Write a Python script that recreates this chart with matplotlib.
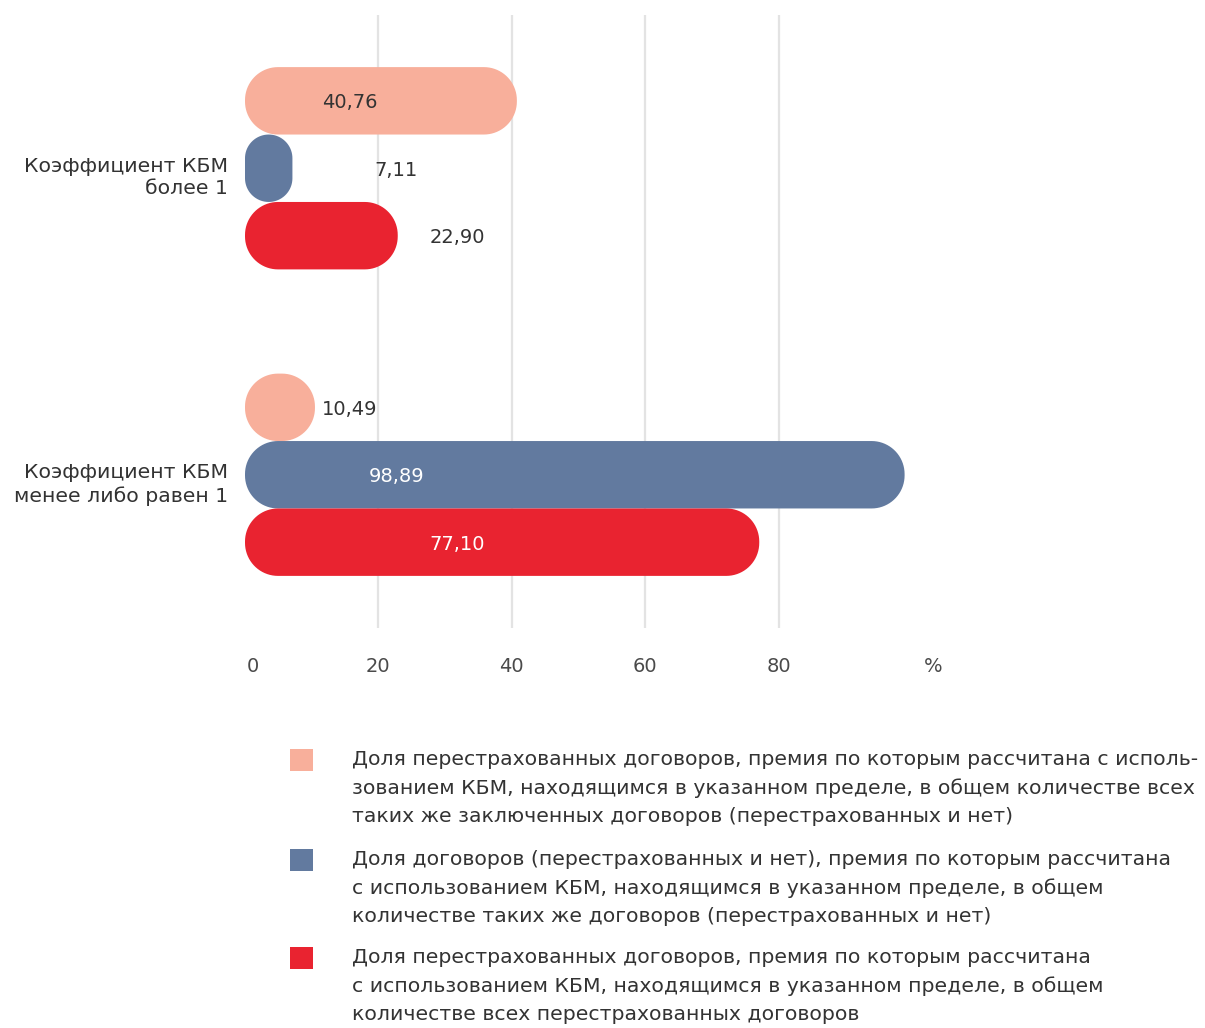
import matplotlib
matplotlib.use("Agg")
import numpy as np
import matplotlib.pyplot as plt
from matplotlib.patches import Polygon, Rectangle
from matplotlib.transforms import ScaledTranslation

# data
categories = ["Коэффициент КБМ\nболее 1", "Коэффициент КБМ\nменее либо равен 1"]
share_reinsured = [40.76, 10.49]      # доля перестрахованных среди всех заключенных
share_all = [7.11, 98.89]             # доля договоров среди таких же
share_of_reinsured = [22.90, 77.10]   # доля среди всех перестрахованных
ticks = [0, 20, 40, 60, 80]
legend_texts = [
    "Доля перестрахованных договоров, премия по которым рассчитана с исполь-\n"
    "зованием КБМ, находящимся в указанном пределе, в общем количестве всех\n"
    "таких же заключенных договоров (перестрахованных и нет)",
    "Доля договоров (перестрахованных и нет), премия по которым рассчитана\n"
    "с использованием КБМ, находящимся в указанном пределе, в общем\n"
    "количестве таких же договоров (перестрахованных и нет)",
    "Доля перестрахованных договоров, премия по которым рассчитана\n"
    "с использованием КБМ, находящимся в указанном пределе, в общем\n"
    "количестве всех перестрахованных договоров",
]

colors = ["#F8AF9B", "#627A9F", "#E92330"]
text_dark = "#333333"
tick_gray = "#4A4A4A"
label_x = [15.7, 22.7, 31.8]   # where the value labels sit for each series
offsets = [-0.22, 0.0, 0.22]
bar_h = 0.22

W, H, DPI = 1205, 1028, 100
fig = plt.figure(figsize=(W / DPI, H / DPI), dpi=DPI)
ax_box = [245 / W, 1 - 628 / H, 667 / W, 613 / H]
ax = fig.add_axes(ax_box)
ax.set_xlim(0, 100)
ax.set_ylim(1.5, -0.5)

px_x = ax_box[2] * W / 100   # pixels per x unit
px_y = ax_box[3] * H / 2.0   # pixels per y unit
corner_px = 33


def rounded_bar(x0, y0, w, h):
    # rounded rectangle with circular corners (in pixels)
    r = min(corner_px, w * px_x / 2, h * px_y / 2)
    rx, ry = r / px_x, r / px_y
    a = np.linspace(0, np.pi / 2, 20)
    x1, y1 = x0 + w, y0 + h
    pts = []
    for cx, cy, start in [(x1 - rx, y1 - ry, 0), (x0 + rx, y1 - ry, np.pi / 2),
                          (x0 + rx, y0 + ry, np.pi), (x1 - rx, y0 + ry, 1.5 * np.pi)]:
        pts.append(np.column_stack([cx + rx * np.cos(a + start), cy + ry * np.sin(a + start)]))
    return np.vstack(pts)


for t in ticks:
    if t > 0:
        ax.axvline(t, color="#E3E3E3", lw=1.6, zorder=0)

series = [share_reinsured, share_all, share_of_reinsured]
for i, vals in enumerate(series):
    for j, v in enumerate(vals):
        y = j + offsets[i]
        ax.add_patch(Polygon(rounded_bar(0, y - bar_h / 2, v, bar_h), closed=True,
                             fc=colors[i], ec="none", zorder=2))
        inside = label_x[i] < v
        c = "white" if (inside and i > 0) else text_dark
        ax.annotate(f"{v:.2f}".replace(".", ","), xy=(label_x[i], y), xytext=(0, -2),
                    textcoords="offset pixels", ha="center", va="center",
                    fontsize=14, color=c, zorder=3)

ax.set_xticks(ticks)
ax.set_xticklabels([str(t) for t in ticks])
ax.set_yticks([0, 1])
ax.set_yticklabels(categories, linespacing=1.25)
ax.tick_params(axis="x", length=0, pad=21, labelsize=14, labelcolor=tick_gray)
ax.tick_params(axis="y", length=0, pad=12, labelsize=14.7, labelcolor=text_dark)
shift = ScaledTranslation(0, -5.5 / DPI, fig.dpi_scale_trans)
for lab in ax.get_yticklabels():
    lab.set_transform(lab.get_transform() + shift)
shift0 = ScaledTranslation(8 / DPI, 0, fig.dpi_scale_trans)
ax.get_xticklabels()[0].set_transform(ax.get_xticklabels()[0].get_transform() + shift0)
ax.annotate("%", xy=(103.2, 0), xycoords=("data", "axes fraction"), xytext=(0, -39),
            textcoords="offset pixels", ha="center", va="center",
            fontsize=14, color=tick_gray, annotation_clip=False)
for s in ax.spines.values():
    s.set_visible(False)

# legend
leg_y = [749, 849, 947]
for k, txt in enumerate(legend_texts):
    fig.patches.append(Rectangle((290 / W, 1 - (leg_y[k] + 22) / H), 23 / W, 22 / H,
                                 transform=fig.transFigure, fc=colors[k], ec="none"))
    fig.text(352 / W, 1 - (leg_y[k] + 1) / H, txt, ha="left", va="top",
             fontsize=14.7, color=text_dark, linespacing=1.6)

fig.savefig("out.png", dpi=DPI)
